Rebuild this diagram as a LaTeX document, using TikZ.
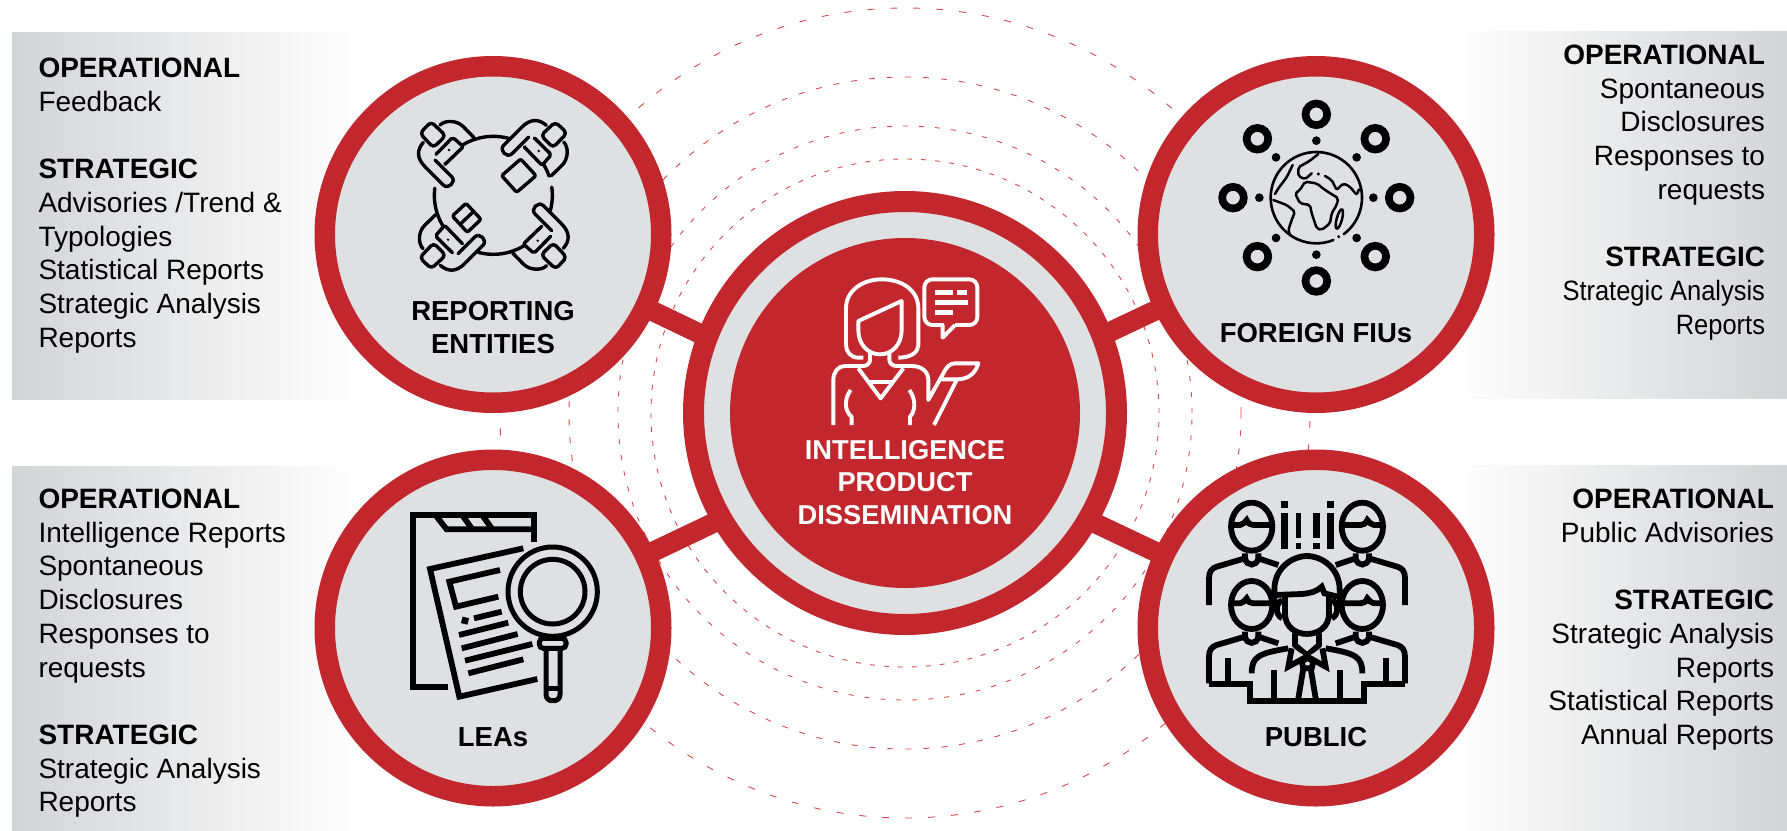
\documentclass[tikz,border=0pt]{standalone}
\usepackage{fontspec}
\setmainfont{Liberation Sans}
\newfontfamily\narrowsans[FakeStretch=.91]{Liberation Sans}
\definecolor{firered}{HTML}{C1272D}
\definecolor{discgrey}{HTML}{DFE0E2}
\definecolor{panelgrey}{HTML}{D3D4D6}
\definecolor{ringred}{HTML}{D8484F}
\begin{document}
\begin{tikzpicture}[x=1pt,y=-1pt,
    hub/.style={circle,draw=firered,fill=discgrey,line width=20.5pt,minimum size=336.5pt,inner sep=0pt,outer sep=0pt},
    ring/.style={draw=ringred,line width=.9pt},
    spoke/.style={draw=firered,line width=20pt},
    txt/.style={font=\fontsize{28}{33.7}\selectfont,inner sep=0pt,outer sep=0pt},
    lab/.style={font=\bfseries\fontsize{27.5}{33}\selectfont,align=center,inner sep=0pt,outer sep=0pt},
    ico/.style={line width=3.4pt,line cap=round,line join=round},
    ink/.style={line width=5.8pt,line join=miter},
    wht/.style={draw=white,line width=3.9pt,line join=round}]
    \useasboundingbox (0,0) rectangle (1787,830);

    % grey panels
    \fill[left color=panelgrey,right color=white] (12,32) rectangle (360,399);
    \fill[left color=panelgrey,right color=white] (12,466) rectangle (360,830);
    \fill[left color=white,right color=panelgrey] (1450,31) rectangle (1787,398);
    \fill[left color=white,right color=panelgrey] (1450,465) rectangle (1787,830);

    % dashed rings
    \coordinate (mid) at (905,413);
    \draw[ring,dash pattern=on 5pt off 9pt] (mid) circle (254pt);
    \draw[ring,dash pattern=on 5pt off 11pt] (mid) circle (287pt);
    \draw[ring,dash pattern=on 6pt off 12pt] (mid) circle (336pt);
    \draw[ring,dash pattern=on 7pt off 16pt] (mid) circle (405pt);

    % the four partners
    \coordinate (joinrep) at (715,341);
    \coordinate (joinfiu) at (1095,339);
    \coordinate (joinlea) at (730,515);
    \coordinate (joinpub) at (1080,516);
    \node[hub] (rep) at (493,234.5) {};
    \node[hub] (fiu) at (1316,234.5) {};
    \node[hub] (lea) at (493,628) {};
    \node[hub] (pub) at (1316,628) {};
    \draw[spoke] (rep) -- (joinrep);
    \draw[spoke] (fiu) -- (joinfiu);
    \draw[spoke] (lea) -- (joinlea);
    \draw[spoke] (pub) -- (joinpub);

    % centre
    \node[hub,line width=21pt,minimum size=423pt] (diss) at (mid) {};
    \node[circle,fill=firered,minimum size=350pt,inner sep=0pt] (core) at (mid) {};
    \node[lab,text=white,font=\bfseries\fontsize{27.3}{32.5}\selectfont] (disslab) at (905,482.5) {INTELLIGENCE\\PRODUCT\\DISSEMINATION};

    % labels in the discs
    \node[lab] (replab) at (493,327.5) {REPORTING\\ENTITIES};
    \node[lab] (fiulab) at (1316,333) {FOREIGN FIUs};
    \node[lab] (lealab) at (493,737) {LEAs};
    \node[lab] (publab) at (1316,737) {PUBLIC};

    % panel texts
    \node[txt,align=left,anchor=north west] (reptxt) at (38.5,58) {\textbf{OPERATIONAL}\\Feedback\\[33.7pt]\textbf{STRATEGIC}\\Advisories /Trend \&\\Typologies\\Statistical Reports\\Strategic Analysis\\Reports};
    \node[txt,align=left,anchor=north west] (leatxt) at (38.5,489) {\textbf{OPERATIONAL}\\Intelligence Reports\\Spontaneous\\Disclosures\\Responses to\\requests\\[33.7pt]\textbf{STRATEGIC}\\Strategic Analysis\\Reports};
    \node[txt,align=right,anchor=north east] (fiutxt) at (1765,45) {\textbf{OPERATIONAL}\\Spontaneous\\Disclosures\\Responses to\\requests\\[33.7pt]\textbf{STRATEGIC}\\{\narrowsans Strategic Analysis}\\{\narrowsans Reports}};
    \node[txt,align=right,anchor=north east] (pubtxt) at (1774,489) {\textbf{OPERATIONAL}\\Public Advisories\\[33.7pt]\textbf{STRATEGIC}\\Strategic Analysis\\Reports\\Statistical Reports\\Annual Reports};

    % round table icon
    \begin{scope}[shift={(400,105)},scale=1/3]
      \coordinate (tbl) at (280,271);
      \draw[ico] (tbl) ++(214:177) arc[start angle=214,end angle=286,radius=177];
      \draw[ico] (tbl) ++(304:177) arc[start angle=304,end angle=341,radius=177];
      \draw[ico] (tbl) ++(352:177) arc[start angle=352,end angle=376,radius=177];
      \draw[ico] (tbl) ++(35:177) arc[start angle=35,end angle=105,radius=177];
      \draw[ico] (tbl) ++(144:177) arc[start angle=144,end angle=187,radius=177];
      \foreach \a in {0,-90,-180,-270} {
        \begin{scope}[rotate around={\a:(280,271)}]
          \draw[ico,fill=discgrey,rounded corners=2pt] (108,148) -- (158,97) -- (190,125) -- (135,178);
          \fill (147,135) circle (4);
          \draw[ico] (120,60) .. controls (135,45) and (170,45) .. (190,65) -- (222,98);
          \draw[ico,fill=discgrey] (70,112) .. controls (50,135) and (50,160) .. (75,185) -- (130,240) .. controls (145,255) and (170,230) .. (155,215) -- (105,165);
          \draw[ico,fill=discgrey,rounded corners=4pt] (60,85) -- (93,50) -- (137,92) -- (100,128) -- cycle;
        \end{scope}
      }
      \draw[ico,rounded corners=2pt] (305,212) -- (362,162) -- (408,212) -- (350,262) -- cycle;
      \draw[ico,rounded corners=2pt] (157,333) -- (198,295) -- (243,343) -- (202,382) -- cycle;
      \draw[ico] (180,358) -- (220,320);
    \end{scope}

    % globe icon
    \begin{scope}[shift={(1210,90)},scale=1/3]
      \coordinate (glb) at (319,323);
      \foreach \a in {0,45,...,315} {
        \draw[line width=7.7pt] (glb) ++(\a:250) circle (32.5);
        \fill (glb) ++(\a:171) circle (13);
      }
      \draw[line width=2.6pt,line cap=round] (glb) ++(68:137) arc[start angle=68,end angle=413,radius=137];
      \fill (386,440) circle (5);
      \fill (325,252) circle (5);
      \begin{scope}[line width=2.5pt,line cap=round,line join=round,rounded corners=2pt]
        \draw (270,300) -- (285,275) -- (320,280) -- (345,300) -- (385,325) -- (380,345) -- (365,370) -- (360,400) -- (335,420) -- (320,415) -- (305,370) -- (300,345) -- (270,340) -- (255,310) -- cycle;
        \draw (325,192) -- (300,212) -- (265,232) -- (265,258) -- (285,268) -- (305,250);
        \draw (345,258) -- (365,270) -- (380,300) -- (400,280) -- (420,290) -- (440,315) -- (447,298);
        \draw (248,225) -- (230,262) -- (205,295) -- (195,312);
        \draw (190,330) -- (230,345) -- (255,365) -- (245,390) -- (235,420) -- (240,435);
        \draw[rotate around={-15:(388,387)}] (388,387) ellipse (8 and 30);
      \end{scope}
    \end{scope}

    % case file icon
    \begin{scope}[shift={(400,500)},scale=1/3]
      \draw[ink] (145,562) -- (38,562) -- (38,45) -- (402,45) -- (402,125);
      \draw[ink] (110,50) -- (140,88) -- (402,88);
      \draw[ink] (190,50) -- (215,85);
      \draw[ink] (250,50) -- (275,85);
      \draw[ink] (370,145) -- (90,207) -- (178,590) -- (412,537);
      \draw[ink] (300,210) -- (148,245) -- (168,320) -- (295,290);
      \fill[rotate around={-14:(195,362)}] (185,352) rectangle (205,372);
      \draw[ink] (222,355) -- (305,335);
      \draw[ink] (177,405) -- (325,368);
      \draw[ink] (185,445) -- (353,402);
      \draw[ink] (195,482) -- (397,432);
      \draw[ink] (205,520) -- (370,478);
      \draw[ink,line width=5pt] (458,275) circle (134);
      \draw[ink,line width=5pt] (458,275) circle (97);
      \draw[ink,line width=5pt,fill=discgrey,rounded corners=4pt] (418,415) rectangle (498,445);
      \draw[ink,line width=5pt,rounded corners=6pt] (438,445) -- (438,602) -- (480,602) -- (480,445);
      \draw[ink,line width=5pt] (438,565) -- (480,565);
    \end{scope}

    % crowd icon
    \begin{scope}[shift={(1195,490)},scale=1/3]
      \fill (258,33) rectangle (278,53);
      \fill (395,33) rectangle (417,53);
      \fill (258,70) rectangle (278,178);
      \fill (303,70) rectangle (318,145);
      \fill (303,160) rectangle (318,178);
      \fill (355,70) rectangle (375,145);
      \fill (355,160) rectangle (375,178);
      \fill (395,70) rectangle (417,178);
      \foreach \sx in {1,-1} {
        \begin{scope}[xshift=336pt,xscale=\sx,xshift=-336pt]
          % back and front man on this side
          \foreach \dy in {0,235} {
            \draw[ink] (170,110+\dy) ellipse (62 and 72);
            \draw[ink] (110,105+\dy) -- (135,105+\dy) .. controls (145,105+\dy) and (150,95+\dy) .. (155,90+\dy) .. controls (160,100+\dy) and (165,105+\dy) .. (175,105+\dy) -- (230,105+\dy);
            \draw[ink] (150,190+\dy) -- (150,205+\dy) .. controls (155,230+\dy) and (185,230+\dy) .. (190,205+\dy) -- (190,190+\dy);
            \draw[ink] (250,225+\dy) -- (190,205+\dy);
            \draw[ink] (42,345+\dy) -- (42,265+\dy) .. controls (42,245+\dy) and (50,235+\dy) .. (65,230+\dy) -- (150,205+\dy);
          }
          \draw[ink] (100,505) -- (100,575);
          \draw[ink] (42,581) -- (165,581) -- (165,632) -- (338,632);
          % centre man, right and left halves
          \fill[discgrey] (238,350) .. controls (238,230) and (290,198) .. (338,198) -- (338,320) -- (270,330) -- cycle;
          \fill[discgrey] (270,320) -- (338,320) -- (338,432) .. controls (300,432) and (270,410) .. (270,370) -- cycle;
          \draw[ink] (238,350) -- (238,300) .. controls (238,235) and (290,198) .. (338,198);
          \draw[ink] (262,330) .. controls (240,340) and (240,375) .. (262,385);
          \draw[ink] (270,320) -- (270,370) .. controls (270,410) and (300,432) .. (338,432);
          \draw[ink] (300,430) -- (300,465) -- (338,498);
          \draw[ink,fill=discgrey] (290,475) -- (280,530) -- (335,500);
          \draw[ink] (170,550) .. controls (170,500) and (190,490) .. (280,475);
          \draw[ink] (325,535) -- (310,625);
          \draw[ink] (238,540) -- (238,625);
        \end{scope}
      }
      \draw[ink] (238,315) -- (320,312) .. controls (345,310) and (365,305) .. (380,290) -- (388,310) -- (437,322);
      \draw[ink,fill=discgrey] (320,515) -- (338,503) -- (355,515) -- (350,535) -- (325,535) -- cycle;
    \end{scope}

    % presenter icon
    \begin{scope}[shift={(810,265)},scale=1/3]
      \draw[wht] (160,278) -- (145,278) .. controls (122,278) and (108,260) .. (108,240) -- (108,130) .. controls (108,75) and (160,43) .. (215,43) .. controls (275,43) and (325,75) .. (325,130) -- (325,240) .. controls (325,260) and (305,278) .. (265,278);
      \draw[wht] (145,168) -- (275,108) -- (275,195) .. controls (275,240) and (245,268) .. (210,268) .. controls (175,268) and (145,240) .. (145,195) -- cycle;
      \draw[wht] (180,260) -- (180,285) .. controls (180,295) and (170,303) .. (160,303) -- (105,303) .. controls (85,303) and (70,320) .. (70,345) -- (70,480);
      \draw[wht] (238,260) -- (238,285) .. controls (238,295) and (248,303) .. (260,303) -- (305,303) .. controls (335,303) and (355,320) .. (355,345) -- (355,405) -- (400,325) .. controls (410,305) and (420,295) .. (435,295) -- (505,295) .. controls (495,330) and (470,343) .. (440,343) -- (395,343);
      \draw[wht] (440,345) -- (372,480);
      \draw[wht] (145,310) -- (212,400) -- (280,310);
      \draw[wht] (175,352) -- (247,352);
      \draw[wht] (122,375) .. controls (100,405) and (105,440) .. (125,455) -- (125,480);
      \draw[wht] (298,375) .. controls (320,405) and (315,440) .. (300,455) -- (300,480);
      \draw[wht,rounded corners=8pt] (402,180) -- (343,180) -- (343,43) -- (502,43) -- (502,180) -- (435,180);
      \draw[wht] (435,180) -- (398,218) -- (398,180);
      \fill[white] (375,75) rectangle (430,90);
      \fill[white] (442,75) rectangle (472,90);
      \fill[white] (375,105) rectangle (473,120);
      \fill[white] (375,135) rectangle (430,150);
    \end{scope}
  \end{tikzpicture}
\end{document}
